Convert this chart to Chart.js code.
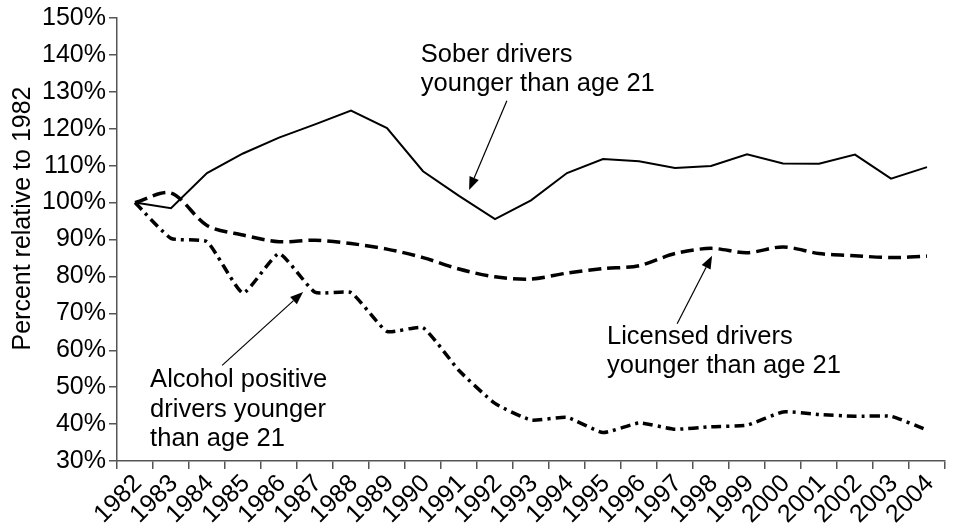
<!DOCTYPE html>
<html>
<head>
<meta charset="utf-8">
<script src="https://cdn.jsdelivr.net/npm/chart.js@4/dist/chart.umd.min.js"></script>
<style>
  html, body { margin: 0; padding: 0; background: #fff; }
  #wrap { width: 955px; height: 529px; }
</style>
</head>
<body>
<div id="wrap"><canvas id="c" width="955" height="529"></canvas></div>
<script>
const years = ['1982','1983','1984','1985','1986','1987','1988','1989','1990','1991','1992','1993','1994','1995','1996','1997','1998','1999','2000','2001','2002','2003','2004'];
const soberDrivers = [100, 98.5, 108, 113.3, 117.6, 121.2, 124.9, 120.2, 108.5, 101.8, 95.5, 100.6, 108, 111.8, 111.2, 109.4, 109.9, 113.1, 110.6, 110.5, 113, 106.5, 109.6];
const licensedDrivers = [100, 102.6, 93.8, 91.2, 89.4, 89.8, 88.9, 87.4, 85.1, 82.0, 79.9, 79.3, 80.9, 82.1, 82.9, 86.2, 87.6, 86.4, 88.0, 86.2, 85.6, 85.1, 85.5];
const alcoholDrivers = [100, 90.3, 89.4, 75.5, 86.2, 75.7, 75.6, 65.1, 66.1, 54.5, 45.6, 41.1, 41.8, 37.7, 40.3, 38.6, 39.3, 39.7, 43.3, 42.6, 42.1, 42.1, 38.4];
const yTicksMin = 30, yTicksMax = 150, yStep = 10;
const axisTitle = 'Percent relative to 1982';

// annotations: text lines + arrow (positions in data units: category index, value)
const annotations = [
  { lines: ['Sober drivers', 'younger than age 21'], x: 7.94, y: 138.1,
    arrowFrom: [10.33, 127.6], arrowTo: [9.28, 103.4] },
  { lines: ['Licensed drivers', 'younger than age 21'], x: 13.11, y: 61.8,
    arrowFrom: [15.06, 67.2], arrowTo: [16.03, 85.6] },
  { lines: ['Alcohol positive', 'drivers younger', 'than age 21'], x: 0.42, y: 50.0,
    arrowFrom: [2.42, 55.9], arrowTo: [4.67, 75.8] }
];

const FONT = '"Liberation Sans", Arial, sans-serif';
const AXIS_COLOR = '#555';

const annotationPlugin = {
  id: 'annot',
  afterDatasetsDraw(chart) {
    const ctx = chart.ctx;
    const xs = chart.scales.x, ys = chart.scales.y;
    const px = i => xs.getPixelForValue(0) + i * (xs.getPixelForValue(1) - xs.getPixelForValue(0));
    const py = v => ys.getPixelForValue(v);
    ctx.save();
    // axis title
    const ca = chart.chartArea;
    ctx.fillStyle = '#000';
    ctx.font = '25px ' + FONT;
    ctx.textAlign = 'center';
    ctx.textBaseline = 'middle';
    ctx.translate(23, (ca.top + ca.bottom) / 2 - 21);
    ctx.rotate(-Math.PI / 2);
    ctx.fillText(axisTitle, 0, 0);
    ctx.setTransform(1, 0, 0, 1, 0, 0);
    annotations.forEach(a => {
      ctx.fillStyle = '#000';
      ctx.font = '25.5px ' + FONT;
      ctx.textAlign = 'left';
      ctx.textBaseline = 'alphabetic';
      const x0 = px(a.x), y0 = py(a.y);
      a.lines.forEach((t, k) => ctx.fillText(t, x0, y0 + k * 29.5));
      // arrow
      const x1 = px(a.arrowFrom[0]), y1 = py(a.arrowFrom[1]);
      const x2 = px(a.arrowTo[0]), y2 = py(a.arrowTo[1]);
      const ang = Math.atan2(y2 - y1, x2 - x1);
      const hl = 13, hw = 5;
      const bx = x2 - hl * Math.cos(ang), by = y2 - hl * Math.sin(ang);
      ctx.strokeStyle = '#000';
      ctx.lineWidth = 1.2;
      ctx.beginPath();
      ctx.moveTo(x1, y1);
      ctx.lineTo(bx, by);
      ctx.stroke();
      ctx.beginPath();
      ctx.moveTo(x2, y2);
      ctx.lineTo(bx + hw * Math.sin(ang), by - hw * Math.cos(ang));
      ctx.lineTo(bx - hw * Math.sin(ang), by + hw * Math.cos(ang));
      ctx.closePath();
      ctx.fill();
    });
    ctx.restore();
  }
};

new Chart(document.getElementById('c'), {
  type: 'line',
  data: {
    labels: years,
    datasets: [
      { label: 'Sober drivers younger than age 21', data: soberDrivers,
        borderColor: '#000', borderWidth: 2, tension: 0, pointRadius: 0, fill: false },
      { label: 'Licensed drivers younger than age 21', data: licensedDrivers,
        borderColor: '#000', borderWidth: 3.5, borderDash: [13, 6], tension: 0.3, pointRadius: 0, fill: false },
      { label: 'Alcohol positive drivers younger than age 21', data: alcoholDrivers,
        borderColor: '#000', borderWidth: 3.5, borderDash: [10, 5, 3, 5], tension: 0.15, pointRadius: 0, fill: false }
    ]
  },
  options: {
    responsive: false,
    animation: false,
    events: [],
    layout: { padding: { top: 16, right: 10, left: 0, bottom: 0 } },
    plugins: { legend: { display: false }, tooltip: { enabled: false } },
    scales: {
      x: {
        offset: true,
        grid: { offset: true, drawOnChartArea: false, drawTicks: true, tickLength: 8, color: AXIS_COLOR, lineWidth: 1.5 },
        border: { display: true, color: AXIS_COLOR, width: 1.5 },
        ticks: { autoSkip: false, minRotation: 45, maxRotation: 45, color: '#000', padding: 0, labelOffset: 3,
          font: { family: FONT, size: 25 } },
        afterFit(scale) { scale.height = 68; }
      },
      y: {
        min: yTicksMin, max: yTicksMax,
        grid: { drawOnChartArea: false, drawTicks: true, tickLength: 8, color: AXIS_COLOR, lineWidth: 1.5 },
        border: { display: true, color: AXIS_COLOR, width: 1.5 },
        ticks: { stepSize: yStep, color: '#000', padding: 3,
          font: { family: FONT, size: 25 },
          callback: v => v + '%' },
        title: { display: false, text: axisTitle },
        afterFit(scale) { scale.width = 117; }
      }
    }
  },
  plugins: [annotationPlugin]
});
</script>
</body>
</html>
